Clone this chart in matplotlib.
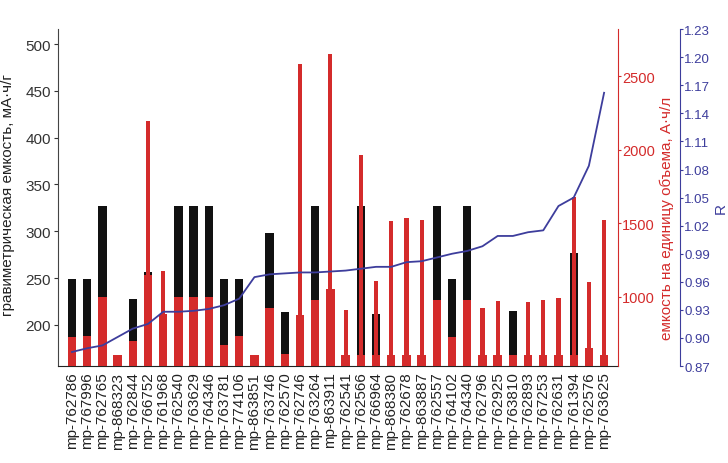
import matplotlib
matplotlib.use("Agg")
import matplotlib.pyplot as plt
import numpy as np

plt.rcParams['font.family'] = ['Liberation Sans', 'DejaVu Sans']

# materials (x axis)
materials = ['mp-762786', 'mp-767996', 'mp-762765', 'mp-868323', 'mp-762844', 'mp-766752',
             'mp-761968', 'mp-762540', 'mp-763629', 'mp-764346', 'mp-763781', 'mp-774106',
             'mp-863851', 'mp-763746', 'mp-762570', 'mp-762746', 'mp-763264', 'mp-863911',
             'mp-762541', 'mp-762566', 'mp-766964', 'mp-868380', 'mp-762678', 'mp-863887',
             'mp-762557', 'mp-764102', 'mp-764340', 'mp-762796', 'mp-762925', 'mp-763810',
             'mp-762893', 'mp-767253', 'mp-762631', 'mp-761394', 'mp-762576', 'mp-763625']

# gravimetric capacity, mAh/g (black bars, left axis)
grav = [249, 249, 327, 168, 228, 256, 212, 327, 327, 327, 249, 249,
        168, 298, 214, 210, 327, 238, 168, 327, 212, 168, 168, 168,
        327, 249, 327, 168, 168, 215, 168, 168, 168, 277, 175, 168]

# lower (red) part of the gravimetric bars, mAh/g
grav_low = [187, 188, 230, 168, 183, 253, 212, 230, 230, 230, 179, 188,
            168, 218, 169, 210, 227, 238, 168, 168, 168, 168, 168, 168,
            227, 187, 227, 168, 168, 168, 168, 168, 168, 168, 175, 168]

# volumetric capacity, Ah/l (narrow red bars, right axis)
vol = [700, 700, 950, 590, 680, 2197, 1179, 950, 950, 950, 650, 700,
       590, 880, 590, 2586, 940, 2654, 912, 1964, 1111, 1518, 1534, 1523,
       940, 700, 940, 923, 975, 590, 968, 980, 991, 1677, 1100, 1523]

# R (blue line, far right axis)
r_vals = [0.885, 0.889, 0.892, 0.901, 0.910, 0.915, 0.928, 0.928, 0.929, 0.931, 0.935, 0.942,
          0.965, 0.968, 0.969, 0.970, 0.970, 0.971, 0.972, 0.974, 0.976, 0.976, 0.981, 0.982,
          0.986, 0.990, 0.993, 0.998, 1.009, 1.009, 1.013, 1.015, 1.041, 1.050, 1.084, 1.162]

black = '#111111'
red = '#d42b2b'
blue = '#3d3d9c'

x = np.arange(len(materials))

fig = plt.figure(figsize=(7.28, 4.64), dpi=100)
ax = fig.add_axes([0.0797, 0.209, 0.849 - 0.0797, 0.935 - 0.209])
ax2 = ax.twinx()
ax3 = ax.twinx()

# gravimetric bars
ax.bar(x, grav, width=0.55, color=black, zorder=2)
ax.bar(x, grav_low, width=0.55, color=red, zorder=3)
ax.set_ylim(156, 516)
ax.set_xlim(-0.92, len(materials) - 0.08)
ax.set_xticks(x)
ax.set_xticklabels(materials, rotation=90, fontsize=11, color='#222222')
ax.tick_params(axis='x', length=0, pad=4)
ax.set_yticks([200, 250, 300, 350, 400, 450, 500])
ax.tick_params(axis='y', labelsize=11, colors='#333333', length=3, pad=2)
ax.set_ylabel('гравиметрическая емкость, мА·ч/г', fontsize=11, color='#222222')
ax.yaxis.set_label_coords(-0.077, 0.51)
ax.spines['top'].set_visible(False)
ax.spines['right'].set_visible(False)
ax.spines['left'].set_color('#444444')
ax.spines['bottom'].set_color('#222222')

# volumetric bars
ax2.bar(x, vol, width=0.27, color=red, zorder=3)
ax2.set_ylim(530, 2820)
ax2.set_yticks([1000, 1500, 2000, 2500])
ax2.tick_params(axis='y', labelsize=10.5, colors=red, length=2, pad=1)
ax2.set_ylabel('емкость на единицу объема, А·ч/л', fontsize=11, color=red)
ax2.yaxis.set_label_coords(1.074, 0.44)
ax2.spines['right'].set_color(red)
ax2.spines['top'].set_visible(False)
ax2.spines['left'].set_visible(False)
ax2.spines['bottom'].set_visible(False)

# R line (outward offset is in points: 62 px at 100 dpi)
ax3.plot(x, r_vals, color=blue, linewidth=1.3, zorder=5)
ax3.spines['right'].set_position(('outward', 62 * 72 / 100))
ax3.set_ylim(0.87, 1.23)
ax3.set_yticks(np.round(np.arange(0.87, 1.2301, 0.03), 2))
ax3.yaxis.set_major_formatter(matplotlib.ticker.FormatStrFormatter('%.2f'))
ax3.tick_params(axis='y', labelsize=9.5, colors=blue, length=2, pad=1)
ax3.set_ylabel('R', fontsize=11, color=blue)
ax3.yaxis.set_label_coords(1.171, 0.47)
ax3.spines['right'].set_color(blue)
ax3.spines['top'].set_visible(False)
ax3.spines['left'].set_visible(False)
ax3.spines['bottom'].set_visible(False)

fig.savefig('out.png', dpi=100)
